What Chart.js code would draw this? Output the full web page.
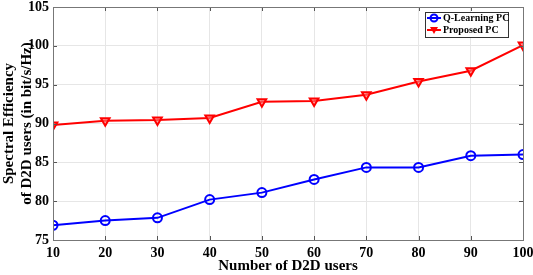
<!DOCTYPE html>
<html><head><meta charset="utf-8">
<script src="https://cdn.jsdelivr.net/npm/chart.js@4.4.0/dist/chart.umd.min.js"></script>
<style>html,body{margin:0;padding:0;background:#fff}#wrap{width:533px;height:275px}</style>
</head><body><div id="wrap"><canvas id="c" width="533" height="275"></canvas></div>
<script>
const users = [10,20,30,40,50,60,70,80,90,100];
const qLearning = [76.9,77.5,77.85,80.2,81.1,82.8,84.35,84.35,85.85,86.0];
const proposed = [89.8,90.35,90.45,90.7,92.8,92.9,93.7,95.4,96.8,100.1];
const yTicks = [75,80,85,90,95,100,105];
const xTicks = [10,20,30,40,50,60,70,80,90,100];
const seriesNames = ['Q-Learning PC','Proposed PC'];

const FONT = '"Liberation Serif","Times New Roman",serif';

const legendPlugin = {
  id:'boxLegend',
  afterDraw(chart){
    const ctx = chart.ctx;
    const x0 = 425, y0 = 12, w = 83, h = 25;
    ctx.save();
    ctx.fillStyle = '#fff';
    ctx.fillRect(x0,y0,w,h);
    ctx.strokeStyle = '#333';
    ctx.lineWidth = 1;
    ctx.strokeRect(x0+0.5,y0+0.5,w,h);
    ctx.font = 'bold 10px ' + FONT;
    ctx.textBaseline = 'middle';
    chart.data.datasets.forEach((ds,i)=>{
      const cy = y0 + 6 + i*12;
      ctx.strokeStyle = ds.borderColor;
      ctx.lineWidth = 2;
      ctx.beginPath(); ctx.moveTo(x0+2,cy); ctx.lineTo(x0+16,cy); ctx.stroke();
      ctx.beginPath();
      if(i===0){ ctx.arc(x0+9,cy,3.5,0,Math.PI*2); ctx.stroke(); }
      else { ctx.moveTo(x0+5,cy-3); ctx.lineTo(x0+13,cy-3); ctx.lineTo(x0+9,cy+4); ctx.closePath(); ctx.fillStyle=ds.borderColor; ctx.fill(); }
      ctx.fillStyle = '#000';
      ctx.fillText(ds.label, x0+18, cy);
    });
    ctx.restore();
  }
};
const innerTicks = {
  id:'innerTicks',
  afterDatasetsDraw(chart){
    const {ctx, chartArea:a, scales} = chart;
    ctx.save();
    ctx.strokeStyle = '#555'; ctx.lineWidth = 1;
    yTicks.forEach(v=>{
      const y = Math.round(scales.y.getPixelForValue(v))+0.5;
      ctx.beginPath(); ctx.moveTo(a.left,y); ctx.lineTo(a.left+4,y); ctx.moveTo(a.right,y); ctx.lineTo(a.right-4,y); ctx.stroke();
    });
    xTicks.forEach(v=>{
      const x = Math.round(scales.x.getPixelForValue(v))+0.5;
      ctx.beginPath(); ctx.moveTo(x,a.bottom); ctx.lineTo(x,a.bottom-4); ctx.moveTo(x,a.top); ctx.lineTo(x,a.top+4); ctx.stroke();
    });
    ctx.strokeStyle = '#777';
    ctx.strokeRect(a.left+0.5,a.top+0.5,a.right-a.left,a.bottom-a.top);
    ctx.restore();
  }
};

new Chart(document.getElementById('c'),{
  type:'line',
  data:{datasets:[
    {label:seriesNames[0], data:users.map((u,i)=>({x:u,y:qLearning[i]})), borderColor:'#0000ff', backgroundColor:'rgba(0,0,0,0)', borderWidth:2, pointStyle:'circle', pointRadius:4.5, pointBorderWidth:2, pointBorderColor:'#0000ff', pointBackgroundColor:'rgba(0,0,0,0)', tension:0},
    {label:seriesNames[1], data:users.map((u,i)=>({x:u,y:proposed[i]})), borderColor:'#ff0000', backgroundColor:'rgba(0,0,0,0)', borderWidth:2, pointStyle:'triangle', rotation:180, pointRadius:5, pointBorderWidth:2, pointBorderColor:'#ff0000', pointBackgroundColor:'rgba(255,120,120,0.6)', tension:0}
  ]},
  options:{
    responsive:false, animation:false,
    layout:{padding:{top:5,right:10,left:0,bottom:0}},
    plugins:{legend:{display:false}, tooltip:{enabled:false}},
    scales:{
      x:{type:'linear', min:10, max:100,
        afterBuildTicks(s){ s.ticks = xTicks.map(v=>({value:v})); },
        afterFit(s){ s.height = 35; s.paddingLeft = 0; s.paddingRight = 0; },
        grid:{color:'#e6e6e6', drawTicks:false},
        border:{display:false},
        ticks:{color:'#000', padding:5, maxRotation:0, font:{family:FONT, size:14, weight:'bold'}},
        title:{display:true, text:'Number of D2D users', color:'#000', padding:{top:1,bottom:0}, font:{family:FONT, size:15, weight:'bold'}}
      },
      y:{min:75, max:105,
        afterBuildTicks(s){ s.ticks = yTicks.map(v=>({value:v})); },
        afterFit(s){ s.width = 53; s.paddingTop = 0; s.paddingBottom = 0; },
        grid:{color:'#e6e6e6', drawTicks:false},
        border:{display:false},
        ticks:{color:'#000', padding:4, font:{family:FONT, size:14, weight:'bold'}},
        title:{display:true, text:['Spectral Efficiency','of D2D users (in bit/s/Hz)'], color:'#000', padding:{top:0,bottom:0}, font:{family:FONT, size:15, weight:'bold', lineHeight:1.2}}
      }
    }
  },
  plugins:[innerTicks, legendPlugin]
});
</script></body></html>
